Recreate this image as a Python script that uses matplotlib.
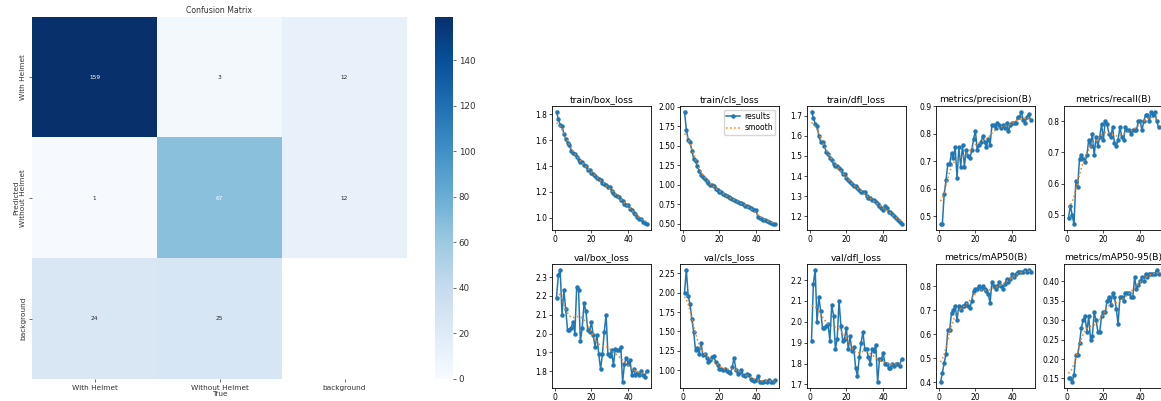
import matplotlib
matplotlib.use("Agg")
import matplotlib.pyplot as plt
from matplotlib.ticker import MultipleLocator
import numpy as np

# confusion matrix: rows = predicted, columns = true; empty cell is nan
classes = ["With Helmet", "Without Helmet", "background"]
cm_with = [159, 3, 12]
cm_without = [1, 67, 12]
cm_background = [24, 25, np.nan]

epochs = list(range(1, 51))

train_box_loss = [1.82, 1.76, 1.72, 1.71, 1.65, 1.61, 1.58, 1.56, 1.52, 1.50,
                  1.49, 1.47, 1.45, 1.43, 1.43, 1.41, 1.40, 1.37, 1.37, 1.35,
                  1.34, 1.32, 1.31, 1.30, 1.29, 1.27, 1.26, 1.25, 1.24, 1.24,
                  1.21, 1.19, 1.18, 1.17, 1.16, 1.14, 1.13, 1.11, 1.10, 1.10,
                  1.07, 1.06, 1.04, 1.03, 1.01, 0.99, 0.99, 0.97, 0.96, 0.95]
train_cls_loss = [1.94, 1.71, 1.58, 1.55, 1.44, 1.33, 1.30, 1.24, 1.18, 1.13,
                  1.10, 1.07, 1.05, 1.02, 1.00, 0.99, 0.98, 0.95, 0.93, 0.91,
                  0.90, 0.88, 0.87, 0.85, 0.84, 0.83, 0.81, 0.80, 0.79, 0.78,
                  0.77, 0.76, 0.75, 0.73, 0.72, 0.71, 0.70, 0.69, 0.68, 0.67,
                  0.58, 0.57, 0.56, 0.55, 0.54, 0.53, 0.52, 0.51, 0.50, 0.49]
train_dfl_loss = [1.72, 1.69, 1.66, 1.65, 1.60, 1.57, 1.57, 1.55, 1.52, 1.51,
                  1.49, 1.48, 1.46, 1.45, 1.45, 1.44, 1.43, 1.41, 1.41, 1.39,
                  1.38, 1.37, 1.36, 1.35, 1.35, 1.34, 1.33, 1.32, 1.32, 1.32,
                  1.30, 1.29, 1.29, 1.28, 1.28, 1.27, 1.26, 1.25, 1.24, 1.23,
                  1.25, 1.24, 1.22, 1.22, 1.21, 1.20, 1.19, 1.18, 1.17, 1.16]
precision = [0.47, 0.47, 0.58, 0.63, 0.69, 0.69, 0.73, 0.71, 0.75, 0.64,
             0.75, 0.68, 0.76, 0.68, 0.74, 0.72, 0.71, 0.74, 0.78, 0.81,
             0.74, 0.76, 0.77, 0.79, 0.77, 0.75, 0.78, 0.76, 0.83, 0.83,
             0.82, 0.84, 0.83, 0.82, 0.83, 0.82, 0.84, 0.81, 0.83, 0.84,
             0.84, 0.84, 0.86, 0.86, 0.88, 0.85, 0.84, 0.86, 0.87, 0.85]
recall = [0.49, 0.53, 0.50, 0.47, 0.61, 0.59, 0.68, 0.69, 0.68, 0.67,
          0.69, 0.74, 0.72, 0.76, 0.69, 0.75, 0.72, 0.75, 0.79, 0.74,
          0.80, 0.79, 0.76, 0.75, 0.78, 0.73, 0.72, 0.74, 0.78, 0.75,
          0.74, 0.78, 0.77, 0.77, 0.76, 0.77, 0.77, 0.77, 0.80, 0.80,
          0.77, 0.80, 0.82, 0.82, 0.80, 0.83, 0.82, 0.83, 0.80, 0.78]
val_box_loss = [2.19, 2.31, 2.34, 2.10, 2.23, 2.13, 2.02, 2.02, 2.03, 2.06,
                2.00, 2.25, 2.23, 1.96, 2.03, 2.16, 2.12, 2.02, 2.01, 2.06,
                1.99, 1.93, 1.99, 1.89, 1.81, 1.89, 2.01, 2.10, 1.89, 1.88,
                1.91, 1.83, 1.92, 1.91, 1.91, 1.93, 1.74, 1.84, 1.87, 1.84,
                1.86, 1.78, 1.81, 1.78, 1.79, 1.78, 1.80, 1.78, 1.77, 1.80]
val_cls_loss = [2.00, 2.30, 1.96, 1.85, 1.66, 1.49, 1.26, 1.29, 1.21, 1.35,
                1.19, 1.21, 1.16, 1.10, 1.13, 1.17, 1.18, 1.10, 1.06, 1.01,
                1.01, 1.00, 1.01, 0.99, 0.97, 0.96, 1.04, 1.16, 1.00, 0.95,
                0.98, 1.00, 0.93, 0.92, 0.95, 0.93, 0.89, 0.87, 0.86, 0.87,
                0.92, 0.85, 0.84, 0.84, 0.86, 0.84, 0.87, 0.84, 0.85, 0.87]
val_dfl_loss = [1.91, 2.18, 2.25, 2.00, 2.12, 2.05, 1.97, 1.97, 1.98, 1.99,
                1.91, 2.08, 2.03, 1.87, 1.92, 2.10, 1.98, 1.91, 1.92, 1.97,
                1.87, 1.93, 1.86, 1.88, 1.78, 1.74, 1.83, 1.90, 1.95, 1.87,
                1.87, 1.83, 1.80, 1.87, 1.86, 1.89, 1.71, 1.82, 1.82, 1.85,
                1.80, 1.80, 1.78, 1.78, 1.80, 1.79, 1.80, 1.80, 1.79, 1.82]
map50 = [0.40, 0.44, 0.48, 0.52, 0.62, 0.62, 0.69, 0.70, 0.72, 0.66,
         0.72, 0.70, 0.72, 0.72, 0.73, 0.72, 0.71, 0.74, 0.78, 0.79,
         0.79, 0.80, 0.79, 0.80, 0.79, 0.78, 0.77, 0.73, 0.82, 0.80,
         0.79, 0.80, 0.82, 0.80, 0.79, 0.81, 0.83, 0.82, 0.83, 0.85,
         0.84, 0.85, 0.86, 0.86, 0.86, 0.86, 0.87, 0.86, 0.87, 0.86]
map50_95 = [0.15, 0.15, 0.14, 0.16, 0.21, 0.21, 0.24, 0.28, 0.30, 0.31,
            0.27, 0.31, 0.25, 0.26, 0.32, 0.30, 0.27, 0.27, 0.31, 0.32,
            0.32, 0.35, 0.36, 0.34, 0.37, 0.36, 0.33, 0.29, 0.36, 0.36,
            0.35, 0.37, 0.37, 0.37, 0.36, 0.36, 0.41, 0.38, 0.39, 0.40,
            0.41, 0.40, 0.42, 0.41, 0.42, 0.42, 0.42, 0.42, 0.43, 0.42]

panels = [
    ("train/box_loss", train_box_loss),
    ("train/cls_loss", train_cls_loss),
    ("train/dfl_loss", train_dfl_loss),
    ("metrics/precision(B)", precision),
    ("metrics/recall(B)", recall),
    ("val/box_loss", val_box_loss),
    ("val/cls_loss", val_cls_loss),
    ("val/dfl_loss", val_dfl_loss),
    ("metrics/mAP50(B)", map50),
    ("metrics/mAP50-95(B)", map50_95),
]
# y tick step where the automatic one differs from the original
y_steps = {1: 0.25, 4: 0.1}

W, H = 1161, 401


def px(left, top, w, h):
    # pixel box (from top-left) -> figure fraction
    return [left / W, 1 - (top + h) / H, w / W, h / H]


def smooth(y, sigma=3):
    # gaussian filter, reflect at the ends
    y = np.asarray(y, dtype=float)
    r = int(4 * sigma + 0.5)
    k = np.exp(-0.5 * (np.arange(-r, r + 1) / sigma) ** 2)
    k /= k.sum()
    return np.convolve(np.pad(y, r, mode="symmetric"), k, mode="valid")


def main():
    fig = plt.figure(figsize=(W / 100, H / 100), dpi=100)

    # confusion matrix
    cm = np.array([cm_with, cm_without, cm_background], dtype=float)
    ax = fig.add_axes(px(32, 17, 375, 362))
    im = ax.imshow(np.ma.masked_invalid(cm), cmap="Blues", vmin=0, vmax=159,
                   aspect="auto", interpolation="nearest")
    ax.set_facecolor("white")
    for i in range(3):
        for j in range(3):
            v = cm[i, j]
            if np.isnan(v):
                continue
            ax.text(j, i, f"{v:.0f}", ha="center", va="center", fontsize=4.2,
                    color="white" if v > 60 else "#262626")
    for s in ax.spines.values():
        s.set_visible(False)
    ax.set_xticks(range(3), classes, fontsize=5.3, color="#333333")
    ax.set_yticks(range(3), classes, fontsize=5.3, color="#333333",
                  rotation=90, va="center")
    ax.tick_params(length=2, width=0.5, pad=2, colors="#333333")
    ax.set_title("Confusion Matrix", fontsize=5.6, pad=3, color="#333333")
    ax.set_xlabel("True", fontsize=5.3, labelpad=0.5, color="#333333")
    ax.set_ylabel("Predicted", fontsize=5.3, labelpad=1, color="#333333")

    cax = fig.add_axes(px(435, 17, 18, 362))
    cb = fig.colorbar(im, cax=cax)
    cb.outline.set_visible(False)
    cb.set_ticks(range(0, 160, 20))
    cax.tick_params(labelsize=6.3, length=2, width=0.5, pad=2,
                    colors="#333333")

    # training curves, 2 x 5 grid
    lefts = [552, 680, 807, 936, 1064]
    tops = [106, 264]
    for n, (title, y) in enumerate(panels):
        a = fig.add_axes(px(lefts[n % 5], tops[n // 5], 99, 124))
        a.plot(epochs, y, marker=".", label="results", linewidth=1.1,
               markersize=4.4, color="C0")
        a.plot(epochs, smooth(y), ":", label="smooth", linewidth=1.1,
               color="C1")
        a.set_title(title, fontsize=6.6, pad=3)
        a.set_xticks([0, 20, 40])
        if n in y_steps:
            a.yaxis.set_major_locator(MultipleLocator(y_steps[n]))
        a.tick_params(labelsize=5.5, length=2, width=0.5, pad=1.5)
        for s in a.spines.values():
            s.set_linewidth(0.6)
        if n == 1:
            a.legend(loc="upper right", fontsize=5.5, handlelength=1.8,
                     borderpad=0.3, labelspacing=0.3, handletextpad=0.6)

    fig.savefig("out.png", dpi=100)


if __name__ == "__main__":
    main()
